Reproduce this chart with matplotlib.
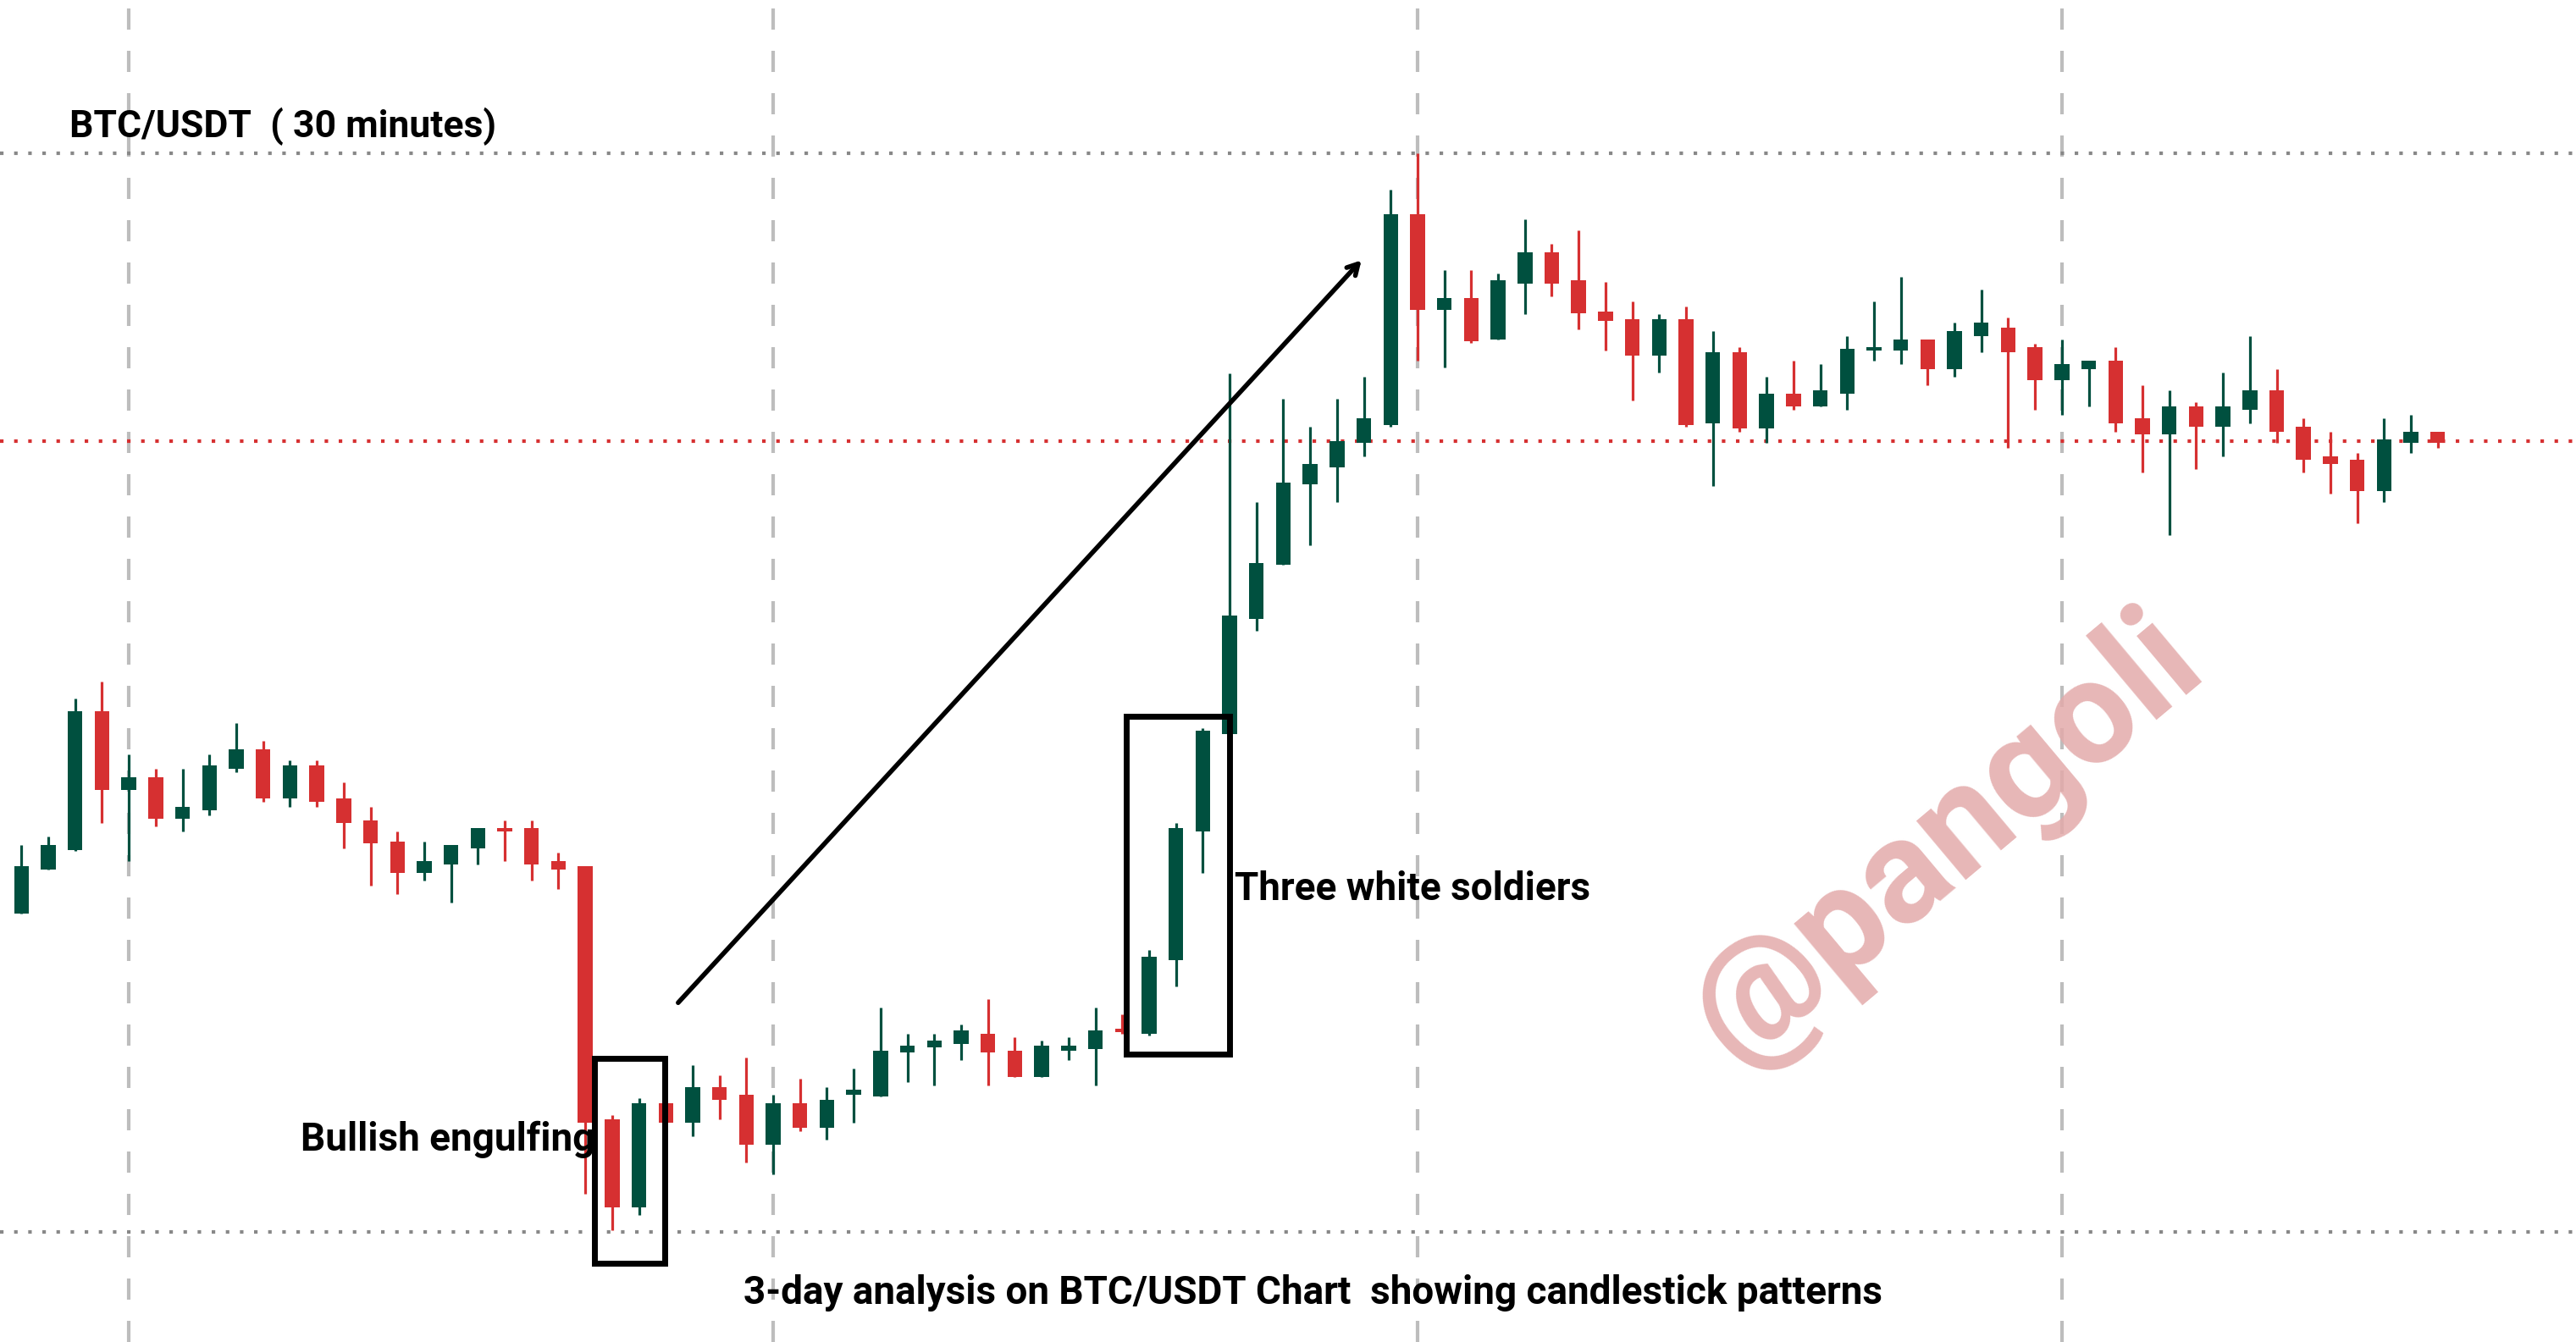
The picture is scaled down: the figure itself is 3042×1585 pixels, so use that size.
import matplotlib.pyplot as plt
from matplotlib.patches import Rectangle

# candle data (open, high, low, close), arbitrary price units
opens = [245, 272, 284, 368, 320, 328, 303, 308, 333, 345, 315, 335, 315, 302, 289, 270, 275, 285, 297, 297,
         277, 274, 120, 67, 130, 118, 140, 135, 105, 130, 115, 135, 134, 161, 164, 166, 172, 162, 146, 162,
         163, 175, 172, 217, 295, 354, 424, 457, 506, 516, 531, 542, 670, 612, 619, 594, 628, 647, 630, 611,
         606, 584, 606, 543, 586, 540, 561, 553, 561, 587, 587, 594, 576, 596, 601, 589, 569, 576, 581, 546,
         536, 553, 541, 551, 563, 541, 523, 521, 502, 531, 538]
highs = [287, 292, 376, 386, 342, 333, 333, 342, 361, 350, 338, 338, 325, 310, 295, 289, 287, 297, 302, 302,
         282, 274, 123, 133, 130, 153, 147, 158, 135, 145, 140, 151, 188, 172, 172, 178, 193, 170, 168, 170,
         188, 184, 223, 300, 358, 573, 495, 558, 541, 558, 571, 685, 707, 636, 636, 634, 667, 652, 660, 629,
         617, 609, 614, 599, 589, 571, 581, 579, 596, 617, 632, 594, 604, 624, 607, 591, 594, 581, 589, 566,
         563, 556, 574, 596, 576, 546, 538, 525, 546, 548, 538]
lows = [245, 272, 283, 300, 277, 298, 295, 305, 331, 313, 310, 310, 285, 262, 257, 265, 252, 275, 277, 265,
        260, 75, 53, 62, 85, 110, 120, 94, 87, 113, 108, 118, 134, 143, 141, 156, 141, 146, 146, 156,
        141, 172, 171, 201, 270, 338, 417, 457, 469, 495, 523, 541, 581, 577, 592, 594, 609, 620, 600, 587,
        557, 574, 541, 505, 538, 531, 551, 553, 551, 581, 579, 566, 571, 586, 528, 551, 548, 553, 538, 513,
        475, 515, 523, 543, 531, 513, 500, 482, 495, 525, 528]
closes = [274, 287, 368, 320, 328, 303, 310, 335, 345, 315, 335, 313, 300, 288, 270, 277, 287, 297, 295, 275,
          272, 118, 67, 130, 118, 140, 132, 105, 130, 115, 132, 138, 162, 165, 168, 174, 161, 146, 165, 165,
          174, 173, 219, 297, 356, 426, 458, 507, 518, 532, 546, 670, 612, 619, 593, 630, 647, 628, 610, 605,
          584, 606, 542, 586, 540, 561, 553, 563, 588, 589, 594, 576, 599, 604, 586, 569, 579, 581, 543, 536,
          553, 541, 553, 563, 538, 521, 518, 502, 533, 538, 531]

title = "BTC/USDT  ( 30 minutes)"
caption = "3-day analysis on BTC/USDT Chart  showing candlestick patterns"
day_marks = [4, 28, 52, 76]
top_level, bottom_level, mid_level = 707, 52, 532

GREEN = "#00503f"
RED = "#d63031"
FONT = ["Liberation Sans Narrow", "Roboto", "DejaVu Sans"]

fig = plt.figure(figsize=(30.42, 15.85), dpi=100)
ax = fig.add_axes([0, 0, 1, 1])
ax.set_xlim(-0.8, 95.15)
ax.set_ylim(-15, 800)
ax.axis("off")

for d in day_marks:
    ax.axvline(d, color="#bdbdbd", lw=3, ls=(0, (6, 6)), zorder=0)
ax.axhline(top_level, color="#888888", lw=3, ls=(0, (1, 3)), zorder=0)
ax.axhline(bottom_level, color="#888888", lw=3, ls=(0, (1, 3)), zorder=0)
ax.axhline(mid_level, color=RED, lw=3, ls=(0, (1, 3)), zorder=0)

for i, (o, h, l, c) in enumerate(zip(opens, highs, lows, closes)):
    col = GREEN if c >= o else RED
    ax.vlines(i, l, h, color=col, lw=2.3, zorder=2)
    ax.bar(i, max(abs(c - o), 1.5), bottom=min(o, c), width=0.55, color=col, zorder=3)

# pattern boxes
ax.add_patch(Rectangle((21.34, 33), 2.63, 124, fill=False, ec="black", lw=5, zorder=4))
ax.add_patch(Rectangle((41.14, 160), 3.86, 205, fill=False, ec="black", lw=5, zorder=4))

ax.annotate("", xy=(49.97, 643), xytext=(24.4, 190),
            arrowprops=dict(arrowstyle="->, head_width=0.5, head_length=0.9", color="black", lw=4))

ax.text(1.78, 723, title, fontsize=32, fontweight="bold", family=FONT, va="center")
ax.text(10.4, 108, "Bullish engulfing", fontsize=33, fontweight="bold", family=FONT, va="center")
ax.text(45.2, 260, "Three white soldiers", fontsize=33, fontweight="bold", family=FONT, va="center")
ax.text(48.1, 15, caption, fontsize=33, fontweight="bold", family=FONT, va="center", ha="center")

fig.text(0.756, 0.374, "@pangoli", fontsize=124, fontweight="bold", color="#e3aaaa", alpha=0.85,
         rotation=40, ha="center", va="center", family=["Roboto", "DejaVu Sans"])

fig.savefig("out.png", dpi=100, facecolor="white")
